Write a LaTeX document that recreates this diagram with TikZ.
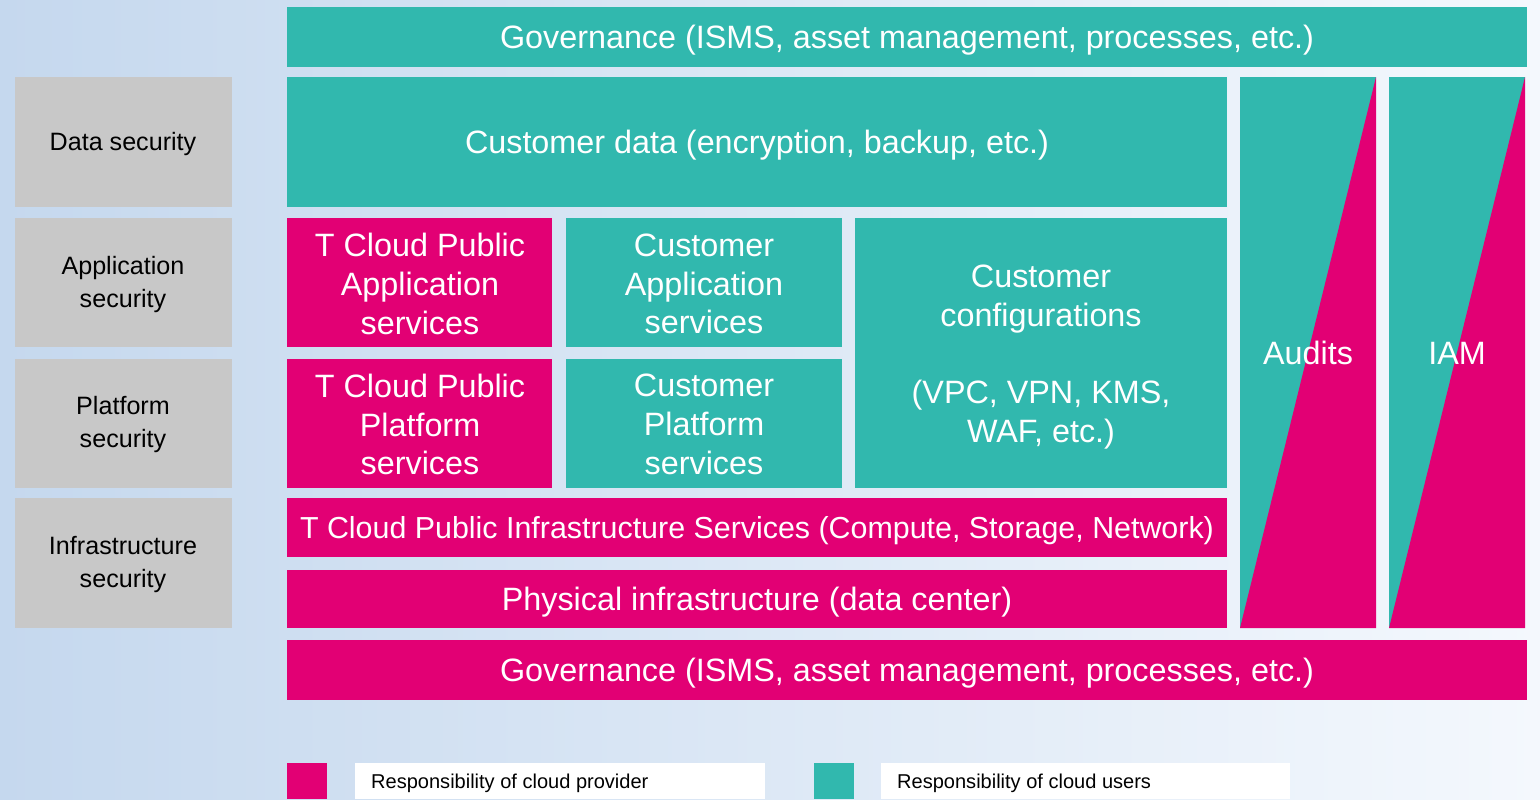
\documentclass[tikz,border=0pt]{standalone}
\usepackage{fontspec}
\setmainfont{Liberation Sans}
\usepackage{xcolor}
\definecolor{tmag}{RGB}{226,0,116}
\definecolor{tteal}{RGB}{49,184,174}
\definecolor{lgray}{RGB}{200,200,200}
\definecolor{bgblue}{RGB}{197,216,238}
\definecolor{bgmid}{RGB}{214,228,244}
\definecolor{bgwhite}{RGB}{244,248,253}

\tikzset{
  wtxt/.style={text=white, align=center, yshift=-0.06cm, font=\fontsize{18.4}{22}\selectfont},
  gtxt/.style={text=black, align=center, yshift=-0.03cm, font=\fontsize{14.3}{19}\selectfont},
  ltxt/.style={text=black, anchor=west, font=\fontsize{11.4}{13}\selectfont}
}

\begin{document}
\begin{tikzpicture}[x=0.02cm, y=-0.02cm]
    \useasboundingbox (0,0) rectangle (1540,799);
    % Background
    \shade[left color=bgblue, middle color=bgmid, right color=bgwhite] (0,0) rectangle (1540,799);

    % Governance (top)
    \fill[tteal] (287,7) rectangle (1527,67);
    \node[wtxt] (govtop) at (907,37) {Governance (ISMS, asset management, processes, etc.)};

    % Security layers
    \fill[lgray] (15,77) rectangle (232,207);
    \node[gtxt] (datasec) at (123,142) {Data security};
    \fill[lgray] (15,218) rectangle (232,347);
    \node[gtxt] (appsec) at (123,283) {Application\\security};
    \fill[lgray] (15,359) rectangle (232,488);
    \node[gtxt] (platsec) at (123,423) {Platform\\security};
    \fill[lgray] (15,498) rectangle (232,628);
    \node[gtxt] (infrasec) at (123,563) {Infrastructure\\security};

    % Customer data
    \fill[tteal] (287,77) rectangle (1227,207);
    \node[wtxt] (custdata) at (757,142) {Customer data (encryption, backup, etc.)};

    % Application services
    \fill[tmag] (287,218) rectangle (552,347);
    \node[wtxt] (tcapp) at (420,281) {T Cloud Public\\Application\\services};
    \fill[tteal] (566,218) rectangle (842,347);
    \node[wtxt] (custapp) at (704,281) {Customer\\Application\\services};

    % Platform services
    \fill[tmag] (287,359) rectangle (552,488);
    \node[wtxt] (tcplat) at (420,421.5) {T Cloud Public\\Platform\\services};
    \fill[tteal] (566,359) rectangle (842,488);
    \node[wtxt] (custplat) at (704,421.5) {Customer\\Platform\\services};

    % Customer configurations
    \fill[tteal] (855,218) rectangle (1227,488);
    \node[wtxt] (custconf) at (1041,354) {Customer\\configurations\\[22pt](VPC, VPN, KMS,\\WAF, etc.)};

    % Infrastructure
    \fill[tmag] (287,498) rectangle (1227,557);
    \node[wtxt, font=\fontsize{17.3}{22}\selectfont] (tcinfra) at (757,528) {T Cloud Public Infrastructure Services (Compute, Storage, Network)};
    \fill[tmag] (287,570) rectangle (1227,628);
    \node[wtxt] (physinfra) at (757,599) {Physical infrastructure (data center)};

    % Audits and IAM
    \fill[tteal] (1240,77) rectangle (1376,628);
    \fill[tmag] (1376,77) -- (1376,628) -- (1240,628) -- cycle;
    \node[wtxt] (audits) at (1308,350) {Audits};
    \fill[tteal] (1389,77) rectangle (1525,628);
    \fill[tmag] (1525,77) -- (1525,628) -- (1389,628) -- cycle;
    \node[wtxt] (iam) at (1457,350) {IAM};

    % Governance (bottom)
    \fill[tmag] (287,640) rectangle (1527,700);
    \node[wtxt] (govbot) at (907,670) {Governance (ISMS, asset management, processes, etc.)};

    % Legend
    \fill[tmag] (287,763) rectangle (327,799);
    \fill[white] (355,763) rectangle (765,799);
    \node[ltxt] (legprov) at (365,783) {Responsibility of cloud provider};
    \fill[tteal] (814,763) rectangle (854,799);
    \fill[white] (881,763) rectangle (1290,799);
    \node[ltxt] (leguser) at (891,783) {Responsibility of cloud users};
\end{tikzpicture}
\end{document}
